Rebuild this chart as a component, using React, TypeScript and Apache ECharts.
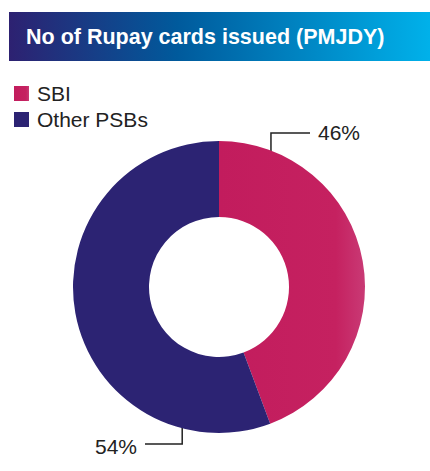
import React, { useEffect, useRef } from "react";
import * as echarts from "echarts";

const titleText = "No of Rupay cards issued (PMJDY)";
const categories = ["SBI", "Other PSBs"];
// slice sizes as drawn in the picture
const shares = [44.3, 55.7];
// printed labels
const labelTexts = ["46%", "54%"];

const CX = 219;
const CY = 287;
const R_IN = 70;
const R_OUT = 146;

function polar(angleDeg: number, r: number): [number, number] {
  const a = (angleDeg * Math.PI) / 180;
  return [CX + r * Math.sin(a), CY - r * Math.cos(a)];
}

export default function App() {
  const ref = useRef<HTMLDivElement>(null);
  useEffect(() => {
    document.body.style.margin = "0";
    const chart = echarts.init(ref.current!, null, { renderer: "svg" });
    const colors = [
      new echarts.graphic.LinearGradient(0, 0, 1, 0, [
        { offset: 0, color: "#c21c5d" },
        { offset: 0.8, color: "#c52160" },
        { offset: 1, color: "#c93a75" },
      ]),
      "#2c2373",
    ];
    const font = "'Liberation Sans', Arial, sans-serif";
    chart.setOption({
      animation: false,
      graphic: [
        {
          type: "rect",
          shape: { x: 9, y: 12, width: 421, height: 49 },
          style: {
            fill: new echarts.graphic.LinearGradient(0, 0, 1, 0, [
              { offset: 0, color: "#2d2171" },
              { offset: 0.4, color: "#005a9c" },
              { offset: 1, color: "#00b1ea" },
            ]),
          },
        },
        {
          type: "text",
          x: 26,
          y: 37,
          style: {
            text: titleText,
            fill: "#ffffff",
            font: "bold 21.5px " + font,
            verticalAlign: "middle",
          },
        },
      ],
      legend: {
        orient: "vertical",
        left: 9,
        top: 78,
        icon: "rect",
        itemWidth: 15,
        itemHeight: 15,
        itemGap: 5,
        data: categories,
        textStyle: {
          fontSize: 21,
          color: "#222",
          fontFamily: font,
          padding: [0, 0, 0, 3],
        },
        selectedMode: false,
      },
      series: [
        {
          type: "pie",
          center: [CX, CY],
          radius: [R_IN, R_OUT],
          startAngle: 90,
          clockwise: true,
          data: categories.map((c, i) => ({
            name: c,
            value: shares[i],
            itemStyle: { color: colors[i] },
          })),
          label: {
            show: true,
            formatter: (p: any) => labelTexts[p.dataIndex],
            fontSize: 21,
            color: "#222",
            fontFamily: font,
            overflow: "none",
            width: 80,
          },
          labelLine: {
            show: true,
            lineStyle: { color: "#222", width: 1.5 },
          },
          labelLayout: (params: any) => {
            if (params.dataIndex === 0) {
              const s = polar(21, R_OUT - 1);
              return {
                x: 318,
                y: 132,
                align: "left",
                verticalAlign: "middle",
                labelLinePoints: [s, [s[0], 133], [310, 133]],
              };
            }
            const s = polar(194.7, R_OUT - 1);
            return {
              x: 137,
              y: 446,
              align: "right",
              verticalAlign: "middle",
              labelLinePoints: [s, [s[0], 444], [145, 444]],
            };
          },
          emphasis: { disabled: true },
        },
      ],
    });
    return () => chart.dispose();
  }, []);
  return <div ref={ref} style={{ width: 430, height: 471 }} />;
}
